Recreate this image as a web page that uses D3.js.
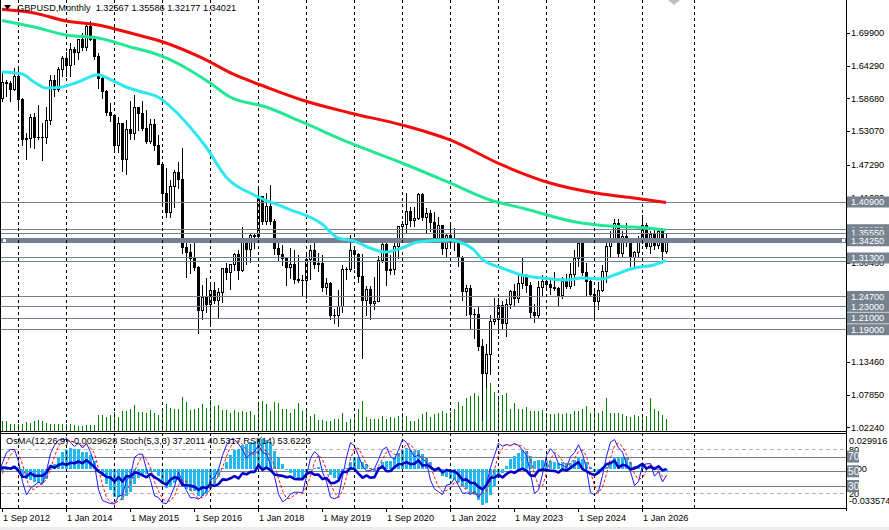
<!DOCTYPE html>
<html><head><meta charset="utf-8">
<script src="https://cdn.jsdelivr.net/npm/d3@7/dist/d3.min.js"></script>
<style>
html,body{margin:0;padding:0;background:#fff;overflow:hidden}
svg{display:block;font-family:"Liberation Sans",Arial,sans-serif}
</style></head><body>
<svg id="c" width="889" height="530"></svg>
<script>
// ---------------- DATA (GBPUSD monthly, Jan 2009 .. Jul 2026) ----------------
const firstMonth = "2009-01";
const open = [
1.4590,1.4490,1.4310,1.4330,1.4800,1.6150,1.6460,1.6700,1.6270,1.5980,1.6450,1.6450,
1.6170,1.5990,1.5230,1.5180,1.5300,1.4520,1.4960,1.5690,1.5360,1.5730,1.6020,1.5580,
1.5660,1.6030,1.6260,1.6040,1.6700,1.6480,1.6060,1.6430,1.6240,1.5590,1.6080,1.5690,
1.5540,1.5760,1.5920,1.6000,1.6240,1.5430,1.5690,1.5690,1.5880,1.6150,1.6130,1.6030,
1.6255,1.5860,1.5170,1.5190,1.5540,1.5200,1.5210,1.5210,1.5500,1.6190,1.6030,1.6370,
1.6560,1.6440,1.6710,1.6670,1.6880,1.6750,1.7110,1.6880,1.6590,1.6210,1.5990,1.5640,
1.5580,1.5060,1.5440,1.4820,1.5350,1.5280,1.5720,1.5620,1.5360,1.5130,1.5430,1.5060,
1.4740,1.4250,1.3920,1.4370,1.4610,1.4480,1.3310,1.3240,1.3130,1.2970,1.2240,1.2460,
1.2340,1.2580,1.2410,1.2550,1.2950,1.2890,1.3020,1.3200,1.2930,1.3400,1.3280,1.3520,
1.3510,1.4190,1.3770,1.4020,1.3770,1.3300,1.3200,1.3130,1.2970,1.3030,1.2770,1.2750,
1.2750,1.3110,1.3260,1.3030,1.3040,1.2630,1.2700,1.2160,1.2160,1.2300,1.2940,1.2940,
1.3260,1.3200,1.2820,1.2410,1.2590,1.2350,1.2400,1.3090,1.3370,1.2920,1.2940,1.3330,
1.3670,1.3710,1.3930,1.3780,1.3820,1.4220,1.3830,1.3900,1.3750,1.3470,1.3690,1.3300,
1.3530,1.3440,1.3410,1.3140,1.2570,1.2620,1.2170,1.2170,1.1620,1.1160,1.1480,1.2050,
1.2090,1.2330,1.2020,1.2340,1.2570,1.2440,1.2700,1.2840,1.2670,1.2200,1.2150,1.2630,
1.2730,1.2690,1.2630,1.2620,1.2490,1.2740,1.2650,1.2850,1.3130,1.3380,1.2890,1.2730,
1.2520,1.2390,1.2580,1.2910,1.3330,1.3460,1.3730,1.3210,1.3510,1.3440,1.3140,1.3230,
1.3440,1.3700,1.3330,1.3540,1.3350,1.3600,1.32567];
const high = [
1.5050,1.4980,1.4780,1.5070,1.6220,1.6750,1.6740,1.7040,1.6700,1.6700,1.6880,1.6660,
1.6460,1.5990,1.5260,1.5540,1.5380,1.5130,1.5720,1.6000,1.5800,1.6030,1.6300,1.5800,
1.6060,1.6280,1.6400,1.6740,1.6750,1.6480,1.6480,1.6620,1.6270,1.6160,1.6170,1.5780,
1.5810,1.5930,1.6060,1.6300,1.6300,1.5780,1.5780,1.5910,1.6310,1.6180,1.6170,1.6380,
1.6381,1.5870,1.5270,1.5600,1.5620,1.5750,1.5440,1.5720,1.6260,1.6260,1.6400,1.6600,
1.6670,1.6820,1.6740,1.6890,1.6995,1.7120,1.7190,1.6900,1.6640,1.6230,1.6010,1.5790,
1.5590,1.5550,1.5450,1.5500,1.5820,1.5930,1.5710,1.5820,1.5660,1.5510,1.5510,1.5240,
1.4750,1.4670,1.4460,1.4640,1.4770,1.5020,1.3480,1.3370,1.3440,1.3000,1.2670,1.2780,
1.2710,1.2710,1.2620,1.2960,1.3050,1.3030,1.3215,1.3270,1.3660,1.3400,1.3540,1.3550,
1.4350,1.4200,1.4240,1.4380,1.3800,1.3470,1.3360,1.3140,1.3300,1.3260,1.3180,1.2840,
1.3220,1.3350,1.3380,1.3210,1.3180,1.2780,1.2710,1.2250,1.2580,1.3010,1.2980,1.3520,
1.3290,1.3210,1.3200,1.2650,1.2650,1.2810,1.3170,1.3480,1.3480,1.3180,1.3400,1.3680,
1.3760,1.4240,1.4000,1.4010,1.4250,1.4250,1.3980,1.3960,1.3910,1.3830,1.3700,1.3550,
1.3750,1.3640,1.3440,1.3170,1.2670,1.2670,1.2250,1.2290,1.1740,1.1650,1.2150,1.2450,
1.2450,1.2400,1.2420,1.2580,1.2680,1.2850,1.3140,1.2850,1.2710,1.2340,1.2730,1.2830,
1.2780,1.2770,1.2890,1.2640,1.2800,1.2860,1.3040,1.3260,1.3430,1.3390,1.3050,1.2810,
1.2570,1.2720,1.3010,1.3440,1.3590,1.3790,1.3790,1.3595,1.3725,1.3470,1.3250,1.3500,
1.3870,1.3730,1.3600,1.3620,1.3650,1.3650,1.35586];
const low = [
1.3500,1.4000,1.3500,1.4270,1.4730,1.6070,1.6000,1.6150,1.5780,1.5700,1.6230,1.5900,
1.5880,1.5150,1.4780,1.5140,1.4230,1.4350,1.4950,1.5400,1.5300,1.5650,1.5570,1.5350,
1.5350,1.5940,1.5970,1.5990,1.6090,1.5930,1.5780,1.6050,1.5270,1.5270,1.5420,1.5420,
1.5230,1.5600,1.5600,1.5990,1.5270,1.5270,1.5350,1.5490,1.5830,1.5910,1.5830,1.6010,
1.5690,1.5070,1.4830,1.5030,1.5010,1.5170,1.4810,1.5100,1.5420,1.5900,1.5990,1.6250,
1.6250,1.6250,1.6460,1.6540,1.6690,1.6690,1.6860,1.6540,1.6050,1.5880,1.5590,1.5480,
1.4950,1.4950,1.4630,1.4570,1.5170,1.5170,1.5330,1.5330,1.5110,1.5110,1.4990,1.4735,
1.4080,1.3840,1.3840,1.4000,1.4330,1.3220,1.2800,1.2870,1.2920,1.1840,1.2080,1.2200,
1.1990,1.2350,1.2110,1.2370,1.2770,1.2590,1.2930,1.2770,1.2900,1.3030,1.3060,1.3300,
1.3450,1.3710,1.3710,1.3710,1.3200,1.3100,1.3010,1.2660,1.2790,1.2700,1.2720,1.2480,
1.2440,1.2770,1.2960,1.2900,1.2560,1.2510,1.2080,1.2010,1.1960,1.2200,1.2770,1.2900,
1.2960,1.2720,1.1410,1.2160,1.2080,1.2250,1.2390,1.3060,1.2670,1.2860,1.2850,1.3130,
1.3450,1.3570,1.3670,1.3670,1.3800,1.3780,1.3570,1.3600,1.3410,1.3430,1.3190,1.3160,
1.3360,1.3270,1.3000,1.2410,1.2160,1.1930,1.1760,1.1560,1.0350,1.0920,1.1140,1.1990,
1.1840,1.1920,1.1800,1.2280,1.2310,1.2370,1.2620,1.2540,1.2110,1.2040,1.2100,1.2500,
1.2600,1.2520,1.2580,1.2300,1.2450,1.2610,1.2620,1.2670,1.3000,1.2840,1.2490,1.2470,
1.2100,1.2250,1.2560,1.2710,1.3140,1.3440,1.3140,1.3140,1.3330,1.2990,1.3000,1.3170,
1.3390,1.3300,1.3220,1.3280,1.3300,1.3120,1.32177];
const close = [
1.4490,1.4310,1.4330,1.4800,1.6150,1.6460,1.6700,1.6270,1.5980,1.6450,1.6450,1.6150,
1.5990,1.5230,1.5180,1.5300,1.4520,1.4960,1.5690,1.5360,1.5730,1.6020,1.5580,1.5660,
1.6030,1.6260,1.6040,1.6700,1.6480,1.6060,1.6430,1.6240,1.5590,1.6080,1.5690,1.5540,
1.5760,1.5920,1.6000,1.6240,1.5430,1.5690,1.5690,1.5880,1.6150,1.6130,1.6030,1.6255,
1.5860,1.5170,1.5190,1.5540,1.5200,1.5210,1.5210,1.5500,1.6190,1.6030,1.6370,1.6560,
1.6440,1.6710,1.6670,1.6880,1.6750,1.7110,1.6880,1.6590,1.6210,1.5990,1.5640,1.5580,
1.5060,1.5440,1.4820,1.5350,1.5280,1.5720,1.5620,1.5360,1.5130,1.5430,1.5060,1.4740,
1.4250,1.3920,1.4370,1.4610,1.4480,1.3310,1.3240,1.3130,1.2970,1.2240,1.2460,1.2340,
1.2580,1.2410,1.2550,1.2950,1.2890,1.3020,1.3200,1.2930,1.3400,1.3280,1.3520,1.3510,
1.4190,1.3770,1.4020,1.3770,1.3300,1.3200,1.3130,1.2970,1.3030,1.2770,1.2750,1.2750,
1.3110,1.3260,1.3030,1.3040,1.2630,1.2700,1.2160,1.2160,1.2300,1.2940,1.2940,1.3260,
1.3200,1.2820,1.2410,1.2590,1.2350,1.2400,1.3090,1.3370,1.2920,1.2940,1.3330,1.3670,
1.3710,1.3930,1.3780,1.3820,1.4220,1.3830,1.3900,1.3750,1.3470,1.3690,1.3300,1.3530,
1.3440,1.3410,1.3140,1.2570,1.2620,1.2170,1.2170,1.1620,1.1160,1.1480,1.2050,1.2090,
1.2330,1.2020,1.2340,1.2570,1.2440,1.2700,1.2840,1.2670,1.2200,1.2150,1.2630,1.2730,
1.2690,1.2630,1.2620,1.2490,1.2740,1.2650,1.2850,1.3130,1.3380,1.2890,1.2730,1.2520,
1.2390,1.2580,1.2910,1.3330,1.3460,1.3730,1.3210,1.3510,1.3440,1.3140,1.3230,1.3440,
1.3700,1.3330,1.3540,1.3350,1.3600,1.32567,1.34021];

// tick volume (thousands), shown months only, Sep 2012 .. Jul 2026
const firstShownMonth = "2012-09";
const volume = [
10,10,7,7,7,7,9,8,10,11,10,8,7,7,7,7,7,7,6,5,5,6,6,6,
16,16,14,16,19,14,20,20,22,26,19,19,18,21,18,16,20,27,23,22,22,34,29,21,
22,23,27,23,31,25,26,21,21,18,21,19,20,19,20,16,28,30,27,20,29,28,22,22,
18,22,28,20,20,15,17,11,11,10,10,12,12,18,9,12,14,22,30,14,12,12,12,15,
12,14,13,15,18,15,10,10,12,17,19,14,17,18,20,18,19,22,29,25,33,35,38,35,
55,54,48,39,35,36,38,22,28,22,22,24,20,20,20,21,18,17,17,18,17,18,17,20,
20,22,25,18,22,18,20,33,18,18,18,17,15,14,16,15,17,15,33,22,20,16,12];

// moving averages: [month, price]
const maFast = [["2012-09",1.6319],["2013-02",1.6285],["2013-05",1.6148],["2013-08",1.6045],["2013-12",1.6062],
["2014-04",1.6148],["2014-09",1.6273],["2014-12",1.6194],["2015-04",1.6062],["2015-08",1.5976],["2015-12",1.5890],
["2016-04",1.5668],["2016-08",1.5376],["2016-12",1.5033],["2017-05",1.4519],["2017-12",1.4210],["2018-08",1.3987],
["2019-05",1.3713],["2019-09",1.3473],["2020-01",1.3421],["2020-05",1.3301],["2020-09",1.3233],["2021-01",1.3301],
["2021-05",1.3404],["2022-01",1.3438],["2022-04",1.3387],["2022-07",1.3267],["2022-09",1.3112],["2023-02",1.2958],
["2023-07",1.2838],["2023-12",1.2787],["2024-06",1.2752],["2024-10",1.2787],["2025-03",1.2770],["2025-06",1.2838],
["2025-11",1.2958],["2026-04",1.3010],["2026-07",1.3083]];
const maMid = [["2012-09",1.7203],["2013-05",1.7091],["2014-01",1.6954],["2014-09",1.6903],["2015-06",1.6731],
["2015-10",1.6662],["2016-02",1.6560],["2016-07",1.6388],["2017-01",1.6131],["2017-06",1.5891],["2018-03",1.5719],
["2018-12",1.5462],["2019-12",1.5102],["2021-01",1.4759],["2022-01",1.4416],["2022-11",1.4124],["2023-07",1.3987],
["2024-08",1.3752],["2025-03",1.3687],["2025-11",1.3661],["2026-07",1.3610]];
const maSlow = [["2012-09",1.7396],["2013-05",1.7331],["2014-01",1.7194],["2014-09",1.7126],["2015-06",1.6971],
["2016-02",1.6817],["2016-11",1.6560],["2017-07",1.6277],["2018-03",1.6062],["2018-12",1.5839],["2019-12",1.5617],
["2021-01",1.5411],["2022-01",1.5154],["2023-02",1.4725],["2024-02",1.4416],["2025-03",1.4227],["2025-11",1.4159],
["2026-07",1.4081]];

// horizontal support/resistance lines
const hLevels = [1.4090, 1.3615, 1.3555, 1.3425, 1.3130, 1.3075, 1.2470, 1.2300, 1.2100, 1.1900];
const hLabels = ["1.40900","1.36150","1.35550","1.34250","1.31300","","1.24700","1.23000","1.21000","1.19000"];
const hWidth  = [1,1,1,5,1,1,1,1,1,1];
// price axis ticks
const priceTicks = ["1.69900","1.64290","1.58680","1.53070","1.47290","1.41680","1.36070","1.30460","1.24850","1.19240","1.13460","1.07850","1.02240"];
// time axis
const timeLabels = ["2012-09","2014-01","2015-05","2016-09","2018-01","2019-05","2020-09","2022-01","2023-05","2024-09","2026-01"];
const gridMonths = ["2013-01","2014-01","2015-01","2016-01","2017-01","2018-01","2019-01","2020-01","2021-01","2022-01","2023-01","2024-01","2025-01","2026-01","2027-02"];
// indicator window
const subLevels = [80,70,50,30,20];
const osmaRange = [-0.033574, 0.029916];
const header = {sym:"GBPUSD,Monthly", o:"1.32567", h:"1.35586", l:"1.32177", c:"1.34021"};
const legend = "OsMA(12,26,9) -0.0029628  Stoch(5,3,3) 37.2011 40.5317  RSI(14) 53.6223";

// ---------------- LAYOUT ----------------
const svg = d3.select("#c");
const mainBot = 431, subTop = 433, subBot = 508, axisX = 846;
const monthIdx = m => { const [y, mo] = m.split("-").map(Number); const [y0, m0] = firstMonth.split("-").map(Number); return (y - y0) * 12 + (mo - m0); };
const first = monthIdx(firstShownMonth);
const N = close.length;
const x = d3.scaleLinear().domain([first, first + 1]).range([2, 6]);
const y = d3.scaleLinear().domain([1.7554, 1.0163]).range([0, mainBot]);
const yRsi = d3.scaleLinear().domain([0, 100]).range([subBot, 434.6]);
const yOsma = d3.scaleLinear().domain(osmaRange).range([subBot, 434.6]);
const yVol = d3.scaleLinear().domain([0, 100]).range([mainBot, mainBot - 100]);
const FONT = 9.2;

const defs = svg.append("defs");
defs.append("clipPath").attr("id","cm").append("rect").attr("x",0).attr("y",0).attr("width",axisX).attr("height",mainBot);
defs.append("clipPath").attr("id","cs").append("rect").attr("x",0).attr("y",subTop+1).attr("width",axisX).attr("height",subBot-subTop-1);

svg.append("rect").attr("width",889).attr("height",530).attr("fill","#fff");

const gMain = svg.append("g").attr("clip-path","url(#cm)").attr("shape-rendering","crispEdges");
const gSub = svg.append("g").attr("clip-path","url(#cs)");

// grid (vertical dashed)
gridMonths.forEach(m => {
  const gx = Math.round(x(monthIdx(m))) + 0.5;
  [[0,mainBot],[subTop,subBot]].forEach(([a,b]) =>
    svg.append("line").attr("x1",gx).attr("x2",gx).attr("y1",a).attr("y2",b)
      .attr("stroke","#000").attr("stroke-width",1).attr("stroke-dasharray","3,3"));
});

// volumes
volume.forEach((v,k) => {
  const cx = Math.round(x(first + k));
  gMain.append("rect").attr("x",cx).attr("width",1).attr("y",yVol(v)).attr("height",mainBot - yVol(v)).attr("fill","#008000");
});

// candles
for (let i = first; i < N; i++) {
  const cx = Math.round(x(i));
  const yh = Math.round(y(high[i])), yl = Math.round(y(low[i]));
  const top = Math.round(y(Math.max(open[i], close[i]))), bot = Math.round(y(Math.min(open[i], close[i])));
  gMain.append("rect").attr("x",cx).attr("width",1).attr("y",yh).attr("height",Math.max(1,yl-yh+1)).attr("fill","#000");
  gMain.append("rect").attr("x",cx-1).attr("width",3).attr("y",top).attr("height",Math.max(1,bot-top+1)).attr("fill","#000");
  if (close[i] > open[i] && bot - top >= 2)
    gMain.append("rect").attr("x",cx).attr("width",1).attr("y",top+1).attr("height",bot-top-1).attr("fill","#fff");
}

// horizontal lines
const LINE = "#75818f";
hLevels.forEach((p,k) => {
  const ly = y(p);
  gMain.append("rect").attr("x",0).attr("width",axisX).attr("y",Math.round(ly - hWidth[k]/2)).attr("height",hWidth[k]).attr("fill",LINE);
});
// selection handles on thick line
const thick = hLevels[hWidth.indexOf(5)];
[2, axisX-5].forEach(hx => svg.append("rect").attr("x",hx+0.5).attr("y",Math.round(y(thick))-2.5).attr("width",4).attr("height",4)
  .attr("fill","#fff").attr("stroke",LINE).attr("stroke-width",1));

// moving averages
const maLine = d3.line().x(d => x(monthIdx(d[0]))).y(d => y(d[1])).curve(d3.curveMonotoneX);
const gMA = svg.append("g").attr("clip-path","url(#cm)");
[[maFast,"#2ee8ee"],[maMid,"#22e895"],[maSlow,"#f20c0c"]].forEach(([d,c]) =>
  gMA.append("path").attr("d",maLine(d)).attr("fill","none").attr("stroke",c).attr("stroke-width",3).attr("stroke-linejoin","round"));

// ---------------- INDICATORS ----------------
const ema = (a,p) => { const k = 2/(p+1), o = []; a.forEach((v,i) => o.push(i ? k*v + (1-k)*o[i-1] : v)); return o; };
const e12 = ema(close,12), e26 = ema(close,26);
const macd = close.map((_,i) => e12[i] - e26[i]);
const sig = macd.map((_,i) => i < 8 ? NaN : d3.mean(macd.slice(i-8,i+1)));
const osma = macd.map((m,i) => m - sig[i]);
const num = [], den = [];
for (let i = 0; i < N; i++) {
  if (i < 4) { num.push(NaN); den.push(NaN); continue; }
  const ll = d3.min(low.slice(i-4,i+1)), hh = d3.max(high.slice(i-4,i+1));
  num.push(close[i] - ll); den.push(hh - ll);
}
const K = num.map((_,i) => i < 6 ? NaN : 100 * d3.sum(num.slice(i-2,i+1)) / d3.sum(den.slice(i-2,i+1)));
const D = K.map((_,i) => i < 8 ? NaN : d3.mean(K.slice(i-2,i+1)));
const rsi = new Array(N).fill(NaN);
{ let ag = 0, al = 0;
  for (let i = 1; i < N; i++) {
    const ch = close[i] - close[i-1], g = Math.max(ch,0), l = Math.max(-ch,0);
    if (i <= 14) { ag += g/14; al += l/14; if (i === 14) rsi[i] = 100 - 100/(1 + ag/al); }
    else { ag = (ag*13 + g)/14; al = (al*13 + l)/14; rsi[i] = al === 0 ? 100 : 100 - 100/(1 + ag/al); }
  }
}

// levels
subLevels.forEach(v => {
  const ly = Math.round(yRsi(v)) + 0.5, dashed = (v === 80 || v === 20);
  gSub.append("line").attr("x1",0).attr("x2",axisX).attr("y1",ly).attr("y2",ly)
    .attr("stroke", dashed ? "#b4b4b4" : LINE).attr("stroke-width",1).attr("stroke-dasharray", dashed ? "4,3" : null);
});
// OsMA histogram
for (let i = first; i < N; i++) {
  const cx = Math.round(x(i)), y0 = Math.round(yOsma(0)), y1 = Math.round(yOsma(osma[i]));
  gSub.append("rect").attr("x",cx-1).attr("width",3).attr("y",Math.min(y0,y1)).attr("height",Math.max(1,Math.abs(y1-y0)))
    .attr("fill","#22b8ee").attr("shape-rendering","crispEdges");
}
const idxs = d3.range(first - 2, N);
const sl = arr => d3.line().defined(i => !isNaN(arr[i])).x(i => x(i) + 0.5).y(i => yRsi(arr[i]));
gSub.append("path").attr("d",sl(K)(idxs)).attr("fill","none").attr("stroke","#1a1aff").attr("stroke-width",1);
gSub.append("path").attr("d",sl(D)(idxs)).attr("fill","none").attr("stroke","#ff1010").attr("stroke-width",1).attr("stroke-dasharray","3,2");
gSub.append("path").attr("d",sl(rsi)(idxs)).attr("fill","none").attr("stroke","#0000c8").attr("stroke-width",2.6).attr("stroke-linejoin","round");

// ---------------- FRAME / AXES ----------------
const frame = svg.append("g").attr("shape-rendering","crispEdges");
frame.append("line").attr("x1",0.5).attr("x2",0.5).attr("y1",0).attr("y2",subBot).attr("stroke","#000");
frame.append("line").attr("x1",axisX+0.5).attr("x2",axisX+0.5).attr("y1",0).attr("y2",subBot+3).attr("stroke","#000");
frame.append("line").attr("x1",0).attr("x2",axisX+1).attr("y1",mainBot+0.5).attr("y2",mainBot+0.5).attr("stroke","#000");
frame.append("line").attr("x1",0).attr("x2",axisX+1).attr("y1",subTop+0.5).attr("y2",subTop+0.5).attr("stroke","#000");
frame.append("line").attr("x1",0).attr("x2",axisX+1).attr("y1",subBot+0.5).attr("y2",subBot+0.5).attr("stroke","#000");
svg.append("rect").attr("x",0).attr("y",527).attr("width",889).attr("height",3).attr("fill","#ececec");

// price ticks
priceTicks.forEach(t => {
  const ty = y(+t);
  frame.append("line").attr("x1",axisX).attr("x2",axisX+4).attr("y1",Math.round(ty)+0.5).attr("y2",Math.round(ty)+0.5).attr("stroke","#000");
  svg.append("text").attr("x",851).attr("y",ty).attr("dy","0.35em").attr("font-size",FONT).attr("fill","#000").text(t);
});
// hline labels
hLevels.forEach((p,k) => {
  if (!hLabels[k]) return;
  const ly = y(p);
  svg.append("rect").attr("x",847).attr("y",ly-5.5).attr("width",42).attr("height",11).attr("fill","#77828f");
  svg.append("text").attr("x",851).attr("y",ly).attr("dy","0.35em").attr("font-size",FONT).attr("fill","#fff").text(hLabels[k]);
});

// sub window labels
svg.append("text").attr("x",849).attr("y",yOsma(osmaRange[1])+6).attr("dy","0.35em").attr("font-size",FONT).text(osmaRange[1].toFixed(6));
svg.append("text").attr("x",849).attr("y",yOsma(osmaRange[0])-7).attr("dy","0.35em").attr("font-size",FONT).text(osmaRange[0].toFixed(6));
svg.append("text").attr("x",849).attr("y",yOsma(0)).attr("dy","0.35em").attr("font-size",FONT).text("0.00");
subLevels.forEach(v => {
  const ly = yRsi(v);
  if (v === 80 || v === 20) {
    svg.append("text").attr("x",849).attr("y",ly).attr("dy","0.35em").attr("font-size",FONT).text(v);
  }
});
subLevels.forEach(v => {
  if (v === 80 || v === 20) return;
  const ly = yRsi(v);
  svg.append("rect").attr("x",847).attr("y",ly-6).attr("width",12).attr("height",12).attr("fill","#77828f");
  svg.append("text").attr("x",848).attr("y",ly).attr("dy","0.35em").attr("font-size",FONT+1).attr("fill","#fff").text(v);
});

// time labels
timeLabels.forEach(m => {
  const tx = Math.round(x(monthIdx(m)));
  frame.append("line").attr("x1",tx+0.5).attr("x2",tx+0.5).attr("y1",subBot).attr("y2",subBot+4).attr("stroke","#000");
  const [yy, mm] = m.split("-").map(Number);
  const mon = ["Jan","Feb","Mar","Apr","May","Jun","Jul","Aug","Sep","Oct","Nov","Dec"][mm-1];
  svg.append("text").attr("x",tx+1).attr("y",521).attr("font-size",FONT).text(`1 ${mon} ${yy}`);
});

// header
svg.append("path").attr("d","M4,5 L11,5 L7.5,9.5 Z").attr("fill","#000");
svg.append("text").attr("x",17).attr("y",11).attr("font-size",FONT).text(`${header.sym}  ${header.o} ${header.h} ${header.l} ${header.c}`).attr("xml:space","preserve");
svg.append("text").attr("x",6).attr("y",subTop+11).attr("font-size",FONT).attr("fill","#000").text(legend);
// chart-shift marker
svg.append("path").attr("d","M668,0 L680,0 L674,5 Z").attr("fill","#c0c0c0");
</script>
</body></html>
